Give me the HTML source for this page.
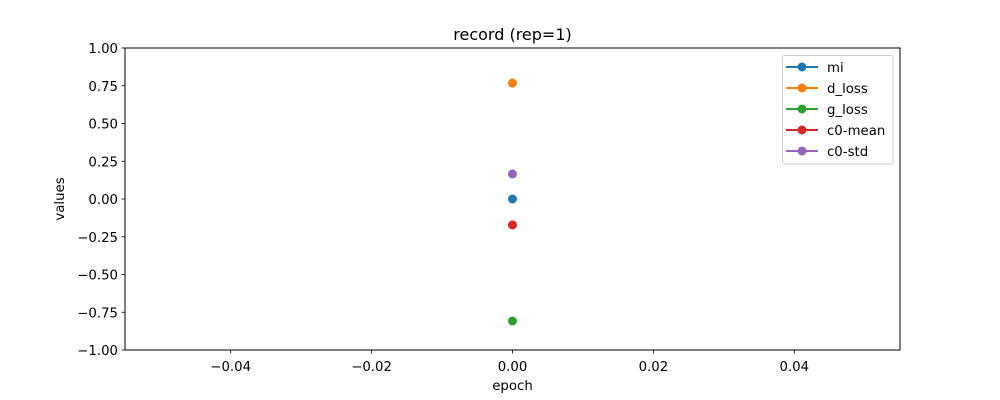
<!DOCTYPE html>
<html><head><meta charset="utf-8"><style>
body{margin:0;background:#fff}
svg{font-family:"DejaVu Sans","Liberation Sans",sans-serif;display:block}
</style></head><body>
<svg id="chart" width="1000" height="400"></svg>
<script>
const seriesNames=["mi","d_loss","g_loss","c0-mean","c0-std"];
const seriesColors=["#1f77b4","#ff7f0e","#2ca02c","#d62728","#9467bd"];
const epochs=[0];
const seriesValues=[[0.0],[0.768],[-0.808],[-0.172],[0.166]];
const xTicks=[-0.04,-0.02,0.00,0.02,0.04];
const yTicks=[-1.00,-0.75,-0.50,-0.25,0.00,0.25,0.50,0.75,1.00];
const L=125,R=900,T=48,B=350,xmin=-0.055,xmax=0.055,ymin=-1,ymax=1;
const sx=v=>L+(v-xmin)/(xmax-xmin)*(R-L);
const sy=v=>B-(v-ymin)/(ymax-ymin)*(B-T);
const svg=document.getElementById('chart');
const NS="http://www.w3.org/2000/svg";
function mk(t,a,txt){const e=document.createElementNS(NS,t);for(const k in a)e.setAttribute(k,a[k]);if(txt!==undefined)e.textContent=txt;svg.appendChild(e);return e;}
const fmt=v=>(v<0?"\u2212":"")+Math.abs(v).toFixed(2);
xTicks.forEach(v=>{const x=sx(v);
let t=mk('line',{x1:x,x2:x,y1:B,y2:B+3.5,stroke:'#000','stroke-width':0.8});

let l=mk('text',{x:x,y:B+21,'text-anchor':'middle','font-size':13.3},fmt(v));
});
yTicks.forEach(v=>{const y=sy(v);
let t=mk('line',{x1:L-3.5,x2:L,y1:y,y2:y,stroke:'#000','stroke-width':0.8});

let l=mk('text',{x:L-7,y:y+5,'text-anchor':'end','font-size':13.3},fmt(v));
});
let fr=mk('rect',{x:L,y:T,width:R-L,height:B-T,fill:'none',stroke:'#000','stroke-width':1});

seriesValues.forEach((vals,i)=>{vals.forEach((v,j)=>{
let c=mk('circle',{cx:sx(epochs[j]),cy:sy(v),r:4.5,fill:seriesColors[i]});
});});
let tt=mk('text',{x:(L+R)/2,y:T-8,'text-anchor':'middle','font-size':16},'record (rep=1)');

let xl=mk('text',{x:(L+R)/2,y:B+40,'text-anchor':'middle','font-size':13.3},'epoch');

let yl=mk('text',{x:0,y:0,'text-anchor':'middle','font-size':13.3,transform:`translate(64,${(T+B)/2}) rotate(-90)`},'values');

let lb=mk('rect',{x:782.5,y:55.5,width:110.5,height:108.5,rx:2,fill:'#fff',stroke:'#ccc','stroke-width':1});

seriesNames.forEach((n,i)=>{const y=67+i*21;
let ln=mk('line',{x1:786,x2:818,y1:y,y2:y,stroke:seriesColors[i],'stroke-width':2});

let c=mk('circle',{cx:802,cy:y,r:4.5,fill:seriesColors[i]});

let t=mk('text',{x:827,y:y+5,'font-size':13.3},n);
});
</script>
</body></html>
